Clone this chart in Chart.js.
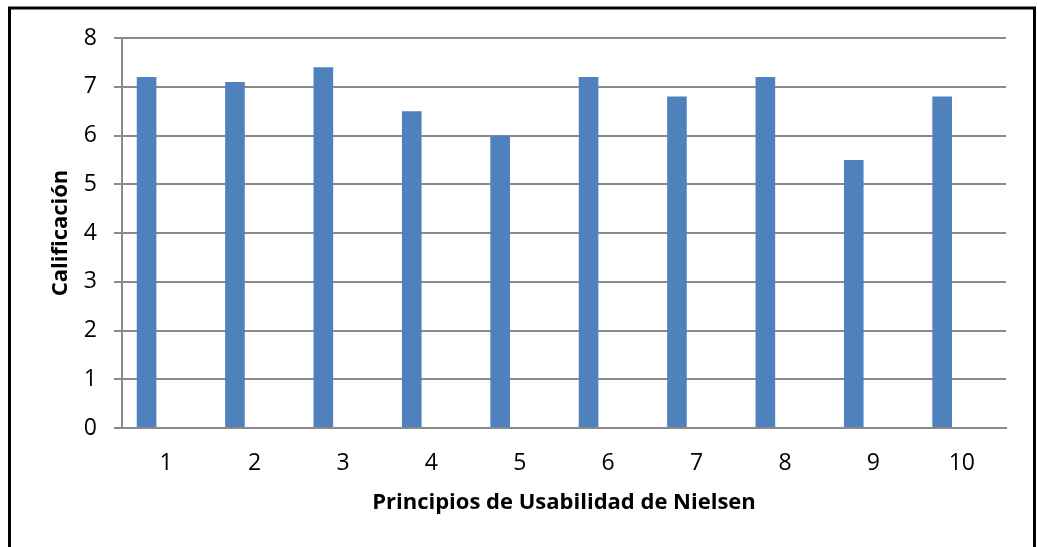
<!DOCTYPE html>
<html lang="es">
<head>
<meta charset="utf-8">
<title>Principios de Usabilidad de Nielsen</title>
<script src="https://cdn.jsdelivr.net/npm/chart.js@4.4.1/dist/chart.umd.min.js"></script>
<style>
  html, body { margin: 0; padding: 0; background: #ffffff; }
  #wrap { width: 1037px; height: 547px; }
</style>
</head>
<body>
<div id="wrap"><canvas id="chart" width="1037" height="547"></canvas></div>
<script>
// Principios (categorías del eje X)
const principios = ['1', '2', '3', '4', '5', '6', '7', '8', '9', '10'];
// Calificación obtenida por cada principio
const calificaciones = [7.2, 7.1, 7.4, 6.5, 6.0, 7.2, 6.8, 7.2, 5.5, 6.8];
// Series vacías: reservan espacio en cada grupo de barras
const serieVacia2 = [null, null, null, null, null, null, null, null, null, null];
const serieVacia3 = [null, null, null, null, null, null, null, null, null, null];
// Marcas del eje Y
const marcasY = [0, 1, 2, 3, 4, 5, 6, 7, 8];

const tituloX = 'Principios de Usabilidad de Nielsen';
const tituloY = 'Calificación';

const FONT = '"Open Sans", Lato, "Liberation Sans", sans-serif';
const GRID = '#8a8a8a';

// Fondo blanco y marco negro alrededor del gráfico
const marco = {
  id: 'marco',
  beforeDraw(chart) {
    const ctx = chart.ctx;
    ctx.save();
    ctx.fillStyle = '#ffffff';
    ctx.fillRect(0, 0, chart.width, chart.height);
    ctx.strokeStyle = '#000000';
    ctx.lineWidth = 3;
    ctx.strokeRect(9.5, 8, 1025, 600);
    ctx.restore();
  }
};

new Chart(document.getElementById('chart'), {
  type: 'bar',
  data: {
    labels: principios,
    datasets: [
      { label: 'Calificación', data: calificaciones, backgroundColor: '#4f81bd', borderWidth: 0 },
      { label: 'Serie 2', data: serieVacia2, backgroundColor: '#c0504d', borderWidth: 0 },
      { label: 'Serie 3', data: serieVacia3, backgroundColor: '#9bbb59', borderWidth: 0 }
    ]
  },
  options: {
    responsive: false,
    animation: false,
    devicePixelRatio: 1,
    layout: { padding: { top: 38, right: 31, left: 0, bottom: 0 } },
    datasets: { bar: { categoryPercentage: 3 / 4.5, barPercentage: 1 } },
    plugins: {
      legend: { display: false },
      tooltip: { enabled: false },
      title: { display: false }
    },
    scales: {
      x: {
        offset: true,
        grid: { display: false },
        border: { display: true, color: GRID, width: 2 },
        ticks: {
          color: '#000000',
          font: { family: FONT, size: 23 },
          padding: 14,
          maxRotation: 0
        },
        title: {
          display: true,
          text: tituloX,
          color: '#000000',
          font: { family: FONT, size: 22, weight: 'bold' },
          padding: { top: 0, bottom: 31 }
        },
        afterFit(scale) { scale.height = 119; }
      },
      y: {
        min: 0,
        max: 8,
        afterBuildTicks(scale) { scale.ticks = marcasY.map(v => ({ value: v })); },
        grid: {
          color: GRID,
          lineWidth: 2,
          tickLength: 8,
          tickColor: GRID,
          drawTicks: true
        },
        border: { display: true, color: GRID, width: 2 },
        ticks: {
          color: '#000000',
          font: { family: FONT, size: 23 },
          padding: 17
        },
        title: {
          display: true,
          text: tituloY,
          color: '#000000',
          font: { family: FONT, size: 22, weight: 'bold' },
          padding: { top: 48, bottom: 0 }
        },
        afterFit(scale) { scale.width = 122; }
      }
    }
  },
  plugins: [marco]
});
</script>
</body>
</html>
